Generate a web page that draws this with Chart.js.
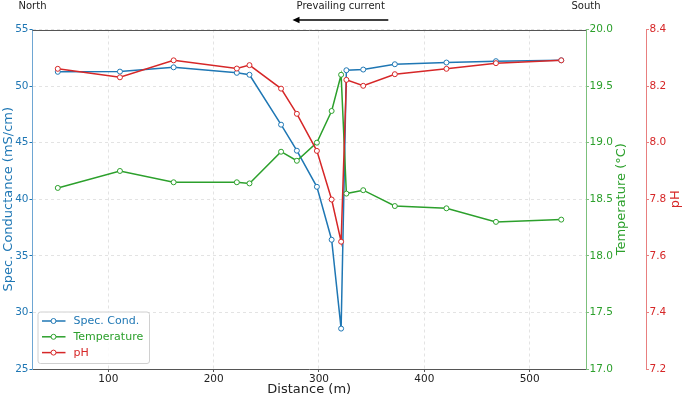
<!DOCTYPE html>
<html>
<head>
<meta charset="utf-8">
<script src="https://cdn.jsdelivr.net/npm/chart.js@4.4.1/dist/chart.umd.min.js"></script>
<style>
  body { margin: 0; background: #fff; }
  #wrap { width: 685px; height: 397px; }
</style>
</head>
<body>
<div id="wrap"><canvas id="myChart" width="685" height="397"></canvas></div>
<script>
// datos
var distance = [52, 111, 162, 222, 234, 264, 279, 298, 312, 321, 326, 342, 372, 421, 468, 530];
var specCond = [51.26, 51.28, 51.66, 51.17, 51.0, 46.59, 44.29, 41.1, 36.42, 28.57, 51.4, 51.46, 51.93, 52.08, 52.2, 52.28];
var temperature = [18.60, 18.75, 18.65, 18.65, 18.64, 18.92, 18.84, 19.00, 19.28, 19.60, 18.55, 18.58, 18.44, 18.42, 18.30, 18.32];
var ph = [8.261, 8.231, 8.291, 8.262, 8.274, 8.191, 8.102, 7.971, 7.799, 7.650, 8.222, 8.201, 8.242, 8.261, 8.281, 8.291];

var seriesNames = ['Spec. Cond.', 'Temperature', 'pH'];
var axisTitles = ['Distance (m)', 'Spec. Conductance (mS/cm)', 'Temperature (\u00b0C)', 'pH'];
var headerLabels = ['North', 'Prevailing current', 'South'];

var BLUE = '#1f77b4';
var GREEN = '#2ca02c';
var RED = '#d62728';
var FONT = '"DejaVu Sans", sans-serif';

function puntos(ys) {
    return distance.map(function (d, i) { return { x: d, y: ys[i] }; });
}

function serie(label, ys, color, axis, order) {
    return {
        label: label,
        data: puntos(ys),
        yAxisID: axis,
        borderColor: color,
        backgroundColor: color,
        borderWidth: 1.5,
        pointRadius: 2.5,
        pointBorderWidth: 1,
        pointBackgroundColor: '#fff',
        pointBorderColor: color,
        tension: 0,
        order: order
    };
}

var gridDash = { color: '#e3e3e3', lineWidth: 1, tickLength: 3, tickColor: '#555' };

// titulos de ejes derechos, encabezado, flecha y leyenda
var extras = {
    id: 'extras',
    afterDraw: function (chart) {
        var ctx = chart.ctx;
        var a = chart.chartArea;
        ctx.save();

        // borde superior
        ctx.strokeStyle = '#555';
        ctx.lineWidth = 1;
        ctx.beginPath();
        ctx.moveTo(a.left, Math.round(a.top) + 0.5);
        ctx.lineTo(a.right, Math.round(a.top) + 0.5);
        ctx.stroke();

        // encabezado
        ctx.font = '10px ' + FONT;
        ctx.fillStyle = '#222';
        ctx.textAlign = 'center';
        ctx.textBaseline = 'alphabetic';
        ctx.fillText(headerLabels[0], a.left, 9);
        ctx.fillText(headerLabels[1], 340.7, 8.5);
        ctx.fillText(headerLabels[2], a.right, 9);

        // flecha
        ctx.strokeStyle = '#000';
        ctx.lineWidth = 1.5;
        ctx.beginPath();
        ctx.moveTo(388.3, 20);
        ctx.lineTo(297, 20);
        ctx.stroke();
        ctx.fillStyle = '#000';
        ctx.beginPath();
        ctx.moveTo(292.5, 20);
        ctx.lineTo(299.5, 16.8);
        ctx.lineTo(299.5, 23.2);
        ctx.closePath();
        ctx.fill();

        // titulos de ejes derechos (rotados -90 como matplotlib)
        var yT = chart.scales.yT;
        var yP = chart.scales.yP;
        var cy = (a.top + a.bottom) / 2;
        ctx.font = '13px ' + FONT;
        ctx.textBaseline = 'middle';
        ctx.textAlign = 'center';
        ctx.fillStyle = GREEN;
        ctx.save();
        ctx.translate(yT.right - 24.3, cy);
        ctx.rotate(-Math.PI / 2);
        ctx.fillText(axisTitles[2], 0, 0);
        ctx.restore();
        ctx.fillStyle = RED;
        ctx.save();
        ctx.translate(yP.left + 30, cy);
        ctx.rotate(-Math.PI / 2);
        ctx.fillText(axisTitles[3], 0, 0);
        ctx.restore();

        // leyenda abajo a la izquierda
        var lx = a.left + 5, ly = a.bottom - 57.5, lw = 111.5, lh = 51.5;
        ctx.fillStyle = 'rgba(255,255,255,0.85)';
        ctx.strokeStyle = '#d0d0d0';
        ctx.lineWidth = 1;
        ctx.beginPath();
        ctx.roundRect(lx + 0.5, ly + 0.5, lw, lh, 2.5);
        ctx.fill();
        ctx.stroke();
        var colors = [BLUE, GREEN, RED];
        ctx.font = '11px ' + FONT;
        ctx.textAlign = 'left';
        ctx.textBaseline = 'middle';
        for (var i = 0; i < seriesNames.length; i++) {
            var yy = ly + 9.5 + i * 15.8;
            ctx.strokeStyle = colors[i];
            ctx.lineWidth = 1.5;
            ctx.beginPath();
            ctx.moveTo(lx + 4.5, yy);
            ctx.lineTo(lx + 28, yy);
            ctx.stroke();
            ctx.fillStyle = '#fff';
            ctx.lineWidth = 1;
            ctx.beginPath();
            ctx.arc(lx + 16, yy, 2.5, 0, Math.PI * 2);
            ctx.fill();
            ctx.stroke();
            ctx.fillStyle = colors[i];
            ctx.fillText(seriesNames[i], lx + 36, yy + 0.5);
        }
        ctx.restore();
    }
};

var chartdata = {
    datasets: [
        serie(seriesNames[0], specCond, BLUE, 'y', 3),
        serie(seriesNames[1], temperature, GREEN, 'yT', 2),
        serie(seriesNames[2], ph, RED, 'yP', 1)
    ]
};

var grafica = new Chart(document.getElementById('myChart'), {
    type: 'line',
    data: chartdata,
    plugins: [extras],
    options: {
        responsive: false,
        animation: false,
        layout: { padding: { top: 29.5, left: 0, right: 0, bottom: 0 } },
        plugins: { legend: { display: false }, tooltip: { enabled: false } },
        scales: {
            x: {
                type: 'linear',
                min: 28,
                max: 553.5,
                afterFit: function (s) { s.height = 28; },
                ticks: { stepSize: 100, includeBounds: false, color: '#222', font: { family: FONT, size: 10.5 }, padding: 1, maxRotation: 0 },
                grid: { color: '#e3e3e3', tickLength: 3, tickColor: '#555' },
                border: { color: '#555', dash: [3, 3] },
                title: { display: true, text: axisTitles[0], color: '#222', font: { family: FONT, size: 13 }, padding: { top: 0, bottom: 0 } }
            },
            y: {
                position: 'left',
                min: 25,
                max: 55,
                afterFit: function (s) { s.width = 32.5; },
                ticks: { stepSize: 5, color: BLUE, font: { family: FONT, size: 10.5 }, padding: 1 },
                grid: { color: '#e3e3e3', tickLength: 3, tickColor: BLUE },
                border: { color: '#6ea6d3', dash: [3, 3] },
                title: { display: true, text: axisTitles[1], color: BLUE, font: { family: FONT, size: 13 }, padding: { top: 1, bottom: 0 } }
            },
            yT: {
                position: 'right',
                min: 17,
                max: 20,
                afterFit: function (s) { s.width = 60; },
                ticks: { stepSize: 0.5, color: GREEN, font: { family: FONT, size: 10.5 }, padding: 0.5, callback: function (v) { return v.toFixed(1); } },
                grid: { drawOnChartArea: false, tickLength: 3, tickColor: '#7cc07c' },
                border: { color: '#7cc07c' }
            },
            yP: {
                position: 'right',
                min: 7.2,
                max: 8.4,
                afterFit: function (s) { s.width = 39; },
                ticks: { stepSize: 0.2, color: RED, font: { family: FONT, size: 10.5 }, padding: 0.5, callback: function (v) { return v.toFixed(1); } },
                grid: { drawOnChartArea: false, tickLength: 3, tickColor: '#e87f7f' },
                border: { color: '#e87f7f' }
            }
        }
    }
});
</script>
</body>
</html>
